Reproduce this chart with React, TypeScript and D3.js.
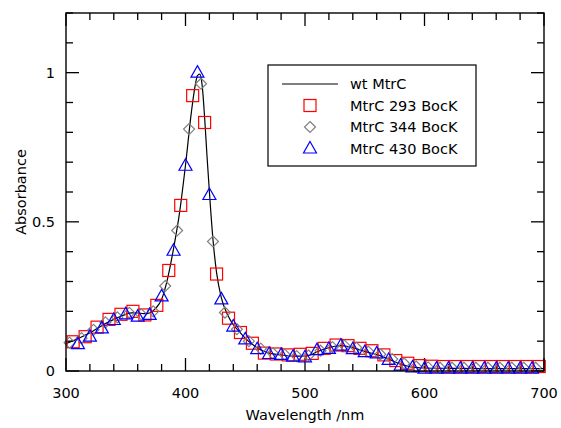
import React from "react";
import * as d3 from "d3";

// wt MtrC (line)
const wtNm = [300, 305, 310, 315, 320, 325, 330, 335, 340, 345, 350, 355, 360, 365, 370, 375, 380, 385, 390, 395, 400, 405, 408, 410, 412, 414, 416, 418, 420, 423, 426, 430, 435, 440, 445, 450, 455, 460, 465, 470, 480, 490, 500, 505, 510, 515, 520, 525, 530, 535, 540, 545, 550, 555, 560, 565, 570, 575, 580, 585, 590, 600, 620, 650, 700];
const wtAbs = [0.092, 0.1, 0.108, 0.118, 0.128, 0.14, 0.152, 0.163, 0.173, 0.182, 0.19, 0.195, 0.195, 0.192, 0.195, 0.21, 0.24, 0.31, 0.41, 0.53, 0.69, 0.87, 0.955, 0.99, 0.995, 0.955, 0.85, 0.72, 0.6, 0.44, 0.33, 0.245, 0.19, 0.155, 0.132, 0.11, 0.092, 0.078, 0.067, 0.06, 0.054, 0.05, 0.05, 0.055, 0.064, 0.072, 0.078, 0.083, 0.085, 0.083, 0.078, 0.072, 0.066, 0.06, 0.055, 0.048, 0.04, 0.031, 0.023, 0.017, 0.013, 0.01, 0.009, 0.008, 0.008];

// MtrC 293 BocK (red squares)
const redNm = [306, 316, 326, 336, 346, 356, 366, 376, 386, 396, 406, 416, 426, 436, 446, 456, 466, 476, 486, 496, 506, 516, 526, 536, 546, 556, 566, 576, 586, 596, 606, 616, 626, 636, 646, 656, 666, 676, 686, 696];
const redAbs = [0.098, 0.115, 0.147, 0.173, 0.19, 0.2, 0.188, 0.22, 0.337, 0.555, 0.923, 0.833, 0.325, 0.177, 0.129, 0.093, 0.06, 0.057, 0.054, 0.056, 0.059, 0.076, 0.087, 0.085, 0.076, 0.068, 0.054, 0.035, 0.026, 0.018, 0.016, 0.015, 0.015, 0.015, 0.015, 0.015, 0.015, 0.015, 0.015, 0.015];

// MtrC 344 BocK (grey diamonds)
const greyNm = [303, 313, 323, 333, 343, 353, 363, 373, 383, 393, 403, 413, 423, 433, 443, 453, 463, 473, 483, 493, 503, 513, 523, 533, 543, 553, 563, 573, 583, 593, 603, 613, 623, 633, 643, 653, 663, 673, 683, 693];
const greyAbs = [0.095, 0.11, 0.138, 0.163, 0.18, 0.195, 0.19, 0.2, 0.285, 0.471, 0.811, 0.963, 0.434, 0.196, 0.14, 0.1, 0.075, 0.06, 0.055, 0.05, 0.052, 0.068, 0.08, 0.085, 0.078, 0.065, 0.056, 0.04, 0.025, 0.015, 0.012, 0.011, 0.011, 0.011, 0.011, 0.011, 0.011, 0.011, 0.011, 0.011];

// MtrC 430 BocK (blue triangles)
const blueNm = [310, 320, 330, 340, 350, 360, 370, 380, 390, 400, 410, 420, 430, 440, 450, 460, 470, 480, 490, 500, 510, 520, 530, 540, 550, 560, 570, 580, 590, 600, 610, 620, 630, 640, 650, 660, 670, 680, 690];
const blueAbs = [0.09, 0.115, 0.143, 0.171, 0.19, 0.182, 0.188, 0.25, 0.403, 0.688, 1.0, 0.59, 0.24, 0.149, 0.106, 0.073, 0.057, 0.054, 0.048, 0.046, 0.07, 0.074, 0.085, 0.073, 0.063, 0.059, 0.037, 0.018, 0.012, 0.008, 0.008, 0.008, 0.008, 0.008, 0.008, 0.008, 0.008, 0.008, 0.008];

const xMajor = [300, 400, 500, 600, 700];
const yMajor = [0, 0.5, 1];
const yMajorLabels = ["0", "0.5", "1"];
const legendLabels = ["wt MtrC", "MtrC 293 BocK", "MtrC 344 BocK", "MtrC 430 BocK"];

const W = 561, H = 428;
const L = 66, R = 544, T = 13, B = 371;
const FONT = "DejaVu Sans, Verdana, sans-serif";

export default function App() {
  const x = d3.scaleLinear().domain([300, 700]).range([L, R]);
  const y = d3.scaleLinear().domain([0, 1.2]).range([B, T]);

  const xMinor = d3.range(300, 701, 20);
  const yMinor = d3.range(0, 13).map((i) => i / 10);

  const line = d3
    .line<number>()
    .x((_, i) => x(wtNm[i]))
    .y((d) => y(d))
    .curve(d3.curveMonotoneX);

  const sq = (cx: number, cy: number, k: string) => (
    <rect key={k} x={cx - 6} y={cy - 6} width={12} height={12} fill="none" stroke="#ff0000" strokeWidth={1.2} />
  );
  const dia = (cx: number, cy: number, k: string) => (
    <path key={k} d={`M${cx},${cy - 5.5}L${cx + 5.5},${cy}L${cx},${cy + 5.5}L${cx - 5.5},${cy}Z`} fill="none" stroke="#808080" strokeWidth={1.2} />
  );
  const tri = (cx: number, cy: number, k: string) => (
    <path key={k} d={`M${cx},${cy - 7}L${cx + 6.5},${cy + 4.5}L${cx - 6.5},${cy + 4.5}Z`} fill="none" stroke="#0000ff" strokeWidth={1.2} />
  );

  const isMajorX = (v: number) => v % 100 === 0;
  const isMajorY = (i: number) => i % 5 === 0;

  const lx = 310;
  const rows = [84, 105.5, 127, 148.5];

  return (
    <svg width={W} height={H} style={{ position: "fixed", left: 0, top: 0, background: "#fff" }}>
      <rect x={0} y={0} width={W} height={H} fill="#fff" />
      {/* ticks */}
      <g stroke="#000" strokeWidth={1.3}>
        {xMinor.map((v) => {
          const len = isMajorX(v) ? 13 : 7;
          return (
            <g key={"xt" + v}>
              <line x1={x(v)} x2={x(v)} y1={B} y2={B - len} />
              <line x1={x(v)} x2={x(v)} y1={T} y2={T + len} />
            </g>
          );
        })}
        {yMinor.map((v, i) => {
          const len = isMajorY(i) ? 13 : 7;
          return (
            <g key={"yt" + i}>
              <line x1={L} x2={L + len} y1={y(v)} y2={y(v)} />
              <line x1={R} x2={R - len} y1={y(v)} y2={y(v)} />
            </g>
          );
        })}
      </g>
      {/* data */}
      <path d={line(wtAbs) || ""} fill="none" stroke="#000" strokeWidth={1.2} />
      {redNm.map((v, i) => sq(x(v), y(redAbs[i]), "r" + i))}
      {greyNm.map((v, i) => dia(x(v), y(greyAbs[i]), "g" + i))}
      {blueNm.map((v, i) => tri(x(v), y(blueAbs[i]), "b" + i))}
      {/* frame */}
      <rect x={L} y={T} width={R - L} height={B - T} fill="none" stroke="#000" strokeWidth={1.4} />
      {/* tick labels */}
      <g fontFamily={FONT} fontSize={14.5} fill="#000">
        {xMajor.map((v) => (
          <text key={"xl" + v} x={x(v)} y={398} textAnchor="middle">{v}</text>
        ))}
        {yMajor.map((v, i) => (
          <text key={"yl" + v} x={55} y={y(v)} textAnchor="end" dominantBaseline="central">{yMajorLabels[i]}</text>
        ))}
        <text x={(L + R) / 2} y={420} textAnchor="middle">Wavelength /nm</text>
        <text transform={`translate(26,${(T + B) / 2}) rotate(-90)`} textAnchor="middle">Absorbance</text>
      </g>
      {/* legend */}
      <rect x={268} y={65} width={208} height={101} fill="#fff" stroke="#000" strokeWidth={1.2} />
      <line x1={282} x2={338} y1={rows[0]} y2={rows[0]} stroke="#000" strokeWidth={1.2} />
      {sq(lx, rows[1], "lr")}
      {dia(lx, rows[2], "lg")}
      {tri(lx, rows[3], "lb")}
      <g fontFamily={FONT} fontSize={14.5} fill="#000">
        {legendLabels.map((t, i) => (
          <text key={"lt" + i} x={350} y={rows[i]} dominantBaseline="central">{t}</text>
        ))}
      </g>
    </svg>
  );
}
